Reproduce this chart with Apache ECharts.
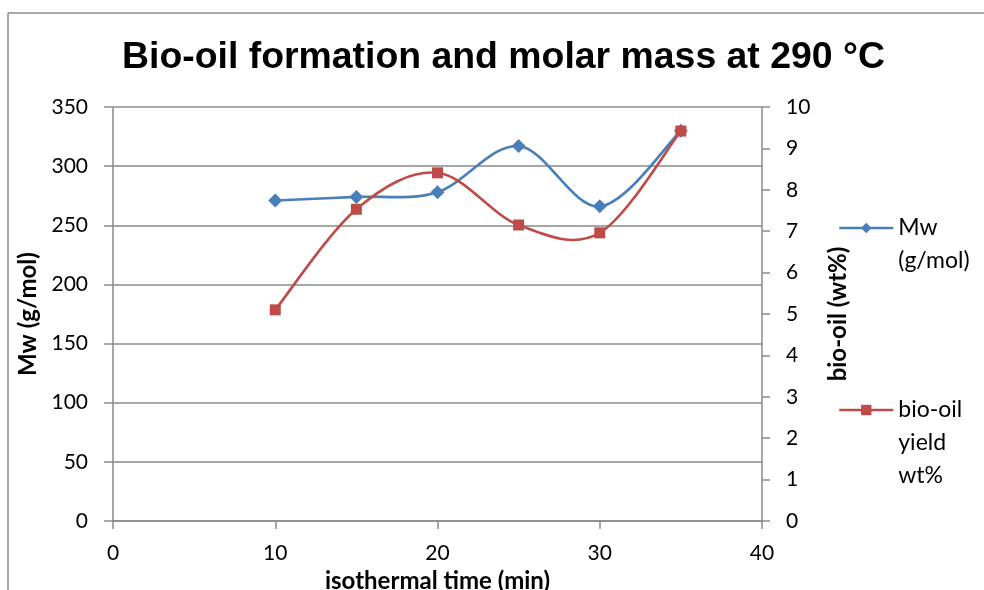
<!DOCTYPE html>
<html>
<head>
<meta charset="utf-8">
<script src="https://cdn.jsdelivr.net/npm/echarts@6/dist/echarts.min.js"></script>
<style>
  html, body { margin: 0; padding: 0; background: #fff; }
  #chart { width: 984px; height: 590px; }
</style>
</head>
<body>
<div id="chart"></div>
<script>
// Isothermal holding time (min)
const timeMin = [10, 15, 20, 25, 30, 35];
// Weight-average molar mass of the bio-oil (g/mol)
const mwValues = [271, 274, 278, 317, 266, 330];
// Bio-oil yield (wt%)
const yieldValues = [5.1, 7.53, 8.41, 7.15, 6.96, 9.42];

const xTicks = { min: 0, max: 40, step: 10 };
const mwTicks = { min: 0, max: 350, step: 50 };
const yieldTicks = { min: 0, max: 10, step: 1 };

const seriesNames = ['Mw (g/mol)', 'bio-oil yield wt%'];
// Legend labels wrap; leading blank lines keep the icon level with the first line
const legendLabels = {
  'Mw (g/mol)': '\nMw\n(g/mol)',
  'bio-oil yield wt%': '\n\nbio-oil\nyield\nwt%'
};

const BLUE = '#4a7ebb';
const RED = '#be4b48';
const AXIS_GRAY = '#8a8a8a';
const TEXT_FONT = 'Lato, "Open Sans", sans-serif';
const LEGEND_LINE_H = 33;

const chart = echarts.init(document.getElementById('chart'), null, { renderer: 'canvas' });

const pairs = (xs, ys) => xs.map((x, i) => [x, ys[i]]);

// Smooth curve through the points (cubic Bezier, Catmull-Rom style tangents),
// positioned through the series' own axes.
function smoothCurve(xs, ys, color) {
  return function (params, api) {
    if (params.dataIndex !== 0) return null;
    const pts = xs.map((x, i) => api.coord([x, ys[i]]));
    const n = pts.length;
    let d = 'M' + pts[0][0] + ',' + pts[0][1];
    for (let i = 0; i < n - 1; i++) {
      const p0 = pts[Math.max(i - 1, 0)];
      const p1 = pts[i];
      const p2 = pts[i + 1];
      const p3 = pts[Math.min(i + 2, n - 1)];
      const c1x = p1[0] + (p2[0] - p0[0]) / 6;
      const c1y = p1[1] + (p2[1] - p0[1]) / 6;
      const c2x = p2[0] - (p3[0] - p1[0]) / 6;
      const c2y = p2[1] - (p3[1] - p1[1]) / 6;
      d += ' C' + c1x + ',' + c1y + ' ' + c2x + ',' + c2y + ' ' + p2[0] + ',' + p2[1];
    }
    return {
      type: 'path',
      shape: { pathData: d },
      style: { fill: 'none', stroke: color, lineWidth: 2.6, lineJoin: 'round' }
    };
  };
}

const legendBase = {
  orient: 'vertical',
  left: 838,
  itemWidth: 54,
  itemHeight: 13,
  itemGap: 0,
  padding: 0,
  selectedMode: false,
  formatter: (name) => legendLabels[name],
  textStyle: { fontFamily: TEXT_FONT, fontSize: 23, color: '#000', lineHeight: LEGEND_LINE_H }
};

const option = {
  backgroundColor: '#fff',
  animation: false,
  title: {
    text: 'Bio-oil formation and molar mass at 290 °C',
    left: 117,
    top: 34,
    textStyle: { fontFamily: '"Liberation Sans", Arial, sans-serif', fontWeight: 'bold', fontSize: 37.4, color: '#000' }
  },
  grid: { left: 113, right: 222, top: 107, bottom: 69, outerBoundsMode: 'none' },
  legend: [
    Object.assign({}, legendBase, {
      top: 228 - 1.5 * LEGEND_LINE_H,
      data: [seriesNames[0]],
      lineStyle: { color: BLUE, width: 2.5, opacity: 1 }
    }),
    Object.assign({}, legendBase, {
      top: 410 - 2.5 * LEGEND_LINE_H,
      data: [seriesNames[1]],
      lineStyle: { color: RED, width: 2.5, opacity: 1 }
    })
  ],
  xAxis: {
    type: 'value',
    min: xTicks.min, max: xTicks.max, interval: xTicks.step,
    name: 'isothermal time (min)',
    nameLocation: 'middle',
    nameGap: 43,
    nameTextStyle: { fontFamily: TEXT_FONT, fontWeight: 'bold', fontSize: 24, color: '#000' },
    axisLine: { show: true, lineStyle: { color: AXIS_GRAY, width: 1.5 } },
    axisTick: { show: true, length: 8, lineStyle: { color: AXIS_GRAY, width: 1.5 } },
    axisLabel: { fontFamily: TEXT_FONT, fontSize: 21, color: '#000', margin: 22 },
    splitLine: { show: false }
  },
  yAxis: [
    {
      type: 'value',
      position: 'left',
      min: mwTicks.min, max: mwTicks.max, interval: mwTicks.step,
      name: 'Mw (g/mol)',
      nameLocation: 'middle',
      nameGap: 72,
      nameTextStyle: { fontFamily: TEXT_FONT, fontWeight: 'bold', fontSize: 24, color: '#000' },
      axisLine: { show: true, lineStyle: { color: AXIS_GRAY, width: 1.5 } },
      axisTick: { show: true, length: 9, lineStyle: { color: AXIS_GRAY, width: 1.5 } },
      axisLabel: { fontFamily: TEXT_FONT, fontSize: 21, color: '#000', margin: 25 },
      splitLine: { show: true, lineStyle: { color: AXIS_GRAY, width: 1.5 } }
    },
    {
      type: 'value',
      position: 'right',
      min: yieldTicks.min, max: yieldTicks.max, interval: yieldTicks.step,
      name: 'bio-oil (wt%)',
      nameLocation: 'middle',
      nameGap: 64,
      nameTextStyle: { fontFamily: TEXT_FONT, fontWeight: 'bold', fontSize: 24, color: '#000' },
      axisLine: { show: true, lineStyle: { color: AXIS_GRAY, width: 1.5 } },
      axisTick: { show: true, length: 8, lineStyle: { color: AXIS_GRAY, width: 1.5 } },
      axisLabel: { fontFamily: TEXT_FONT, fontSize: 21, color: '#000', margin: 24 },
      splitLine: { show: false }
    }
  ],
  series: [
    {
      name: 'mwCurve',
      type: 'custom',
      yAxisIndex: 0,
      data: pairs(timeMin, mwValues),
      renderItem: smoothCurve(timeMin, mwValues, BLUE),
      silent: true,
      z: 2
    },
    {
      name: 'yieldCurve',
      type: 'custom',
      yAxisIndex: 1,
      data: pairs(timeMin, yieldValues),
      renderItem: smoothCurve(timeMin, yieldValues, RED),
      silent: true,
      z: 3
    },
    {
      name: seriesNames[0],
      type: 'line',
      yAxisIndex: 0,
      data: pairs(timeMin, mwValues),
      symbol: 'diamond',
      symbolSize: 14,
      lineStyle: { color: BLUE, width: 2.5, opacity: 0 },
      itemStyle: { color: BLUE },
      z: 4
    },
    {
      name: seriesNames[1],
      type: 'line',
      yAxisIndex: 1,
      data: pairs(timeMin, yieldValues),
      symbol: 'rect',
      symbolSize: 11,
      lineStyle: { color: RED, width: 2.5, opacity: 0 },
      itemStyle: { color: RED },
      z: 5
    }
  ],
  graphic: [
    { type: 'line', shape: { x1: 8, y1: 13, x2: 984, y2: 13 }, style: { stroke: '#8a8a8a', lineWidth: 1.5 } },
    { type: 'line', shape: { x1: 8, y1: 13, x2: 8, y2: 590 }, style: { stroke: '#8a8a8a', lineWidth: 1.5 } }
  ]
};

chart.setOption(option);
</script>
</body>
</html>
